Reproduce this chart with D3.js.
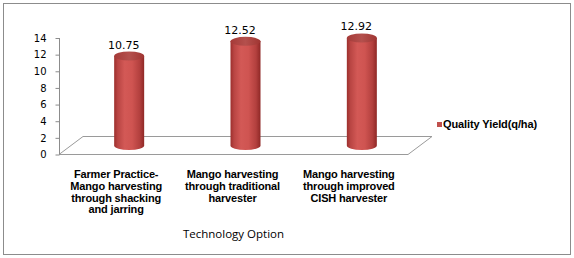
<!DOCTYPE html>
<html>
<head>
<meta charset="utf-8">
<script src="https://cdn.jsdelivr.net/npm/d3@7"></script>
<style>
  body { margin: 0; background: #fff; }
  svg { display: block; }
</style>
</head>
<body>
<svg id="chart" width="574" height="258"></svg>
<script>
// chart data
var categoryLines = [
    ["Farmer Practice-", "Mango harvesting", "through shacking", "and jarring"],
    ["Mango harvesting", "through traditional", "harvester"],
    ["Mango harvesting", "through improved", "CISH harvester"]
];
var yieldValues = [10.75, 12.52, 12.92];
var yTicks = [0, 2, 4, 6, 8, 10, 12, 14];
var seriesName = "Quality Yield(q/ha)";
var axisTitle = "Technology Option";

var colors = {
    border: "#8c8c8c",
    axis: "#8c8c8c",
    floor: "#9a9a9a",
    bar: "#c0504d",
    text: "#000"
};

// floor depth (3d offset)
var depth = { dx: 24, dy: -18 };

var svg = d3.select("#chart");

svg.append("rect")
    .attr("x", 3.5).attr("y", 3.5)
    .attr("width", 567).attr("height", 251)
    .attr("fill", "#fff")
    .attr("stroke", colors.border);

var x = d3.scaleBand()
    .domain(d3.range(yieldValues.length))
    .range([59, 408]);

var y = d3.scaleLinear()
    .domain([0, 14])
    .range([154.5, 38]);

// gradients for the cylinders
var defs = svg.append("defs");
var bodyGrad = defs.append("linearGradient")
    .attr("id", "bodyGrad")
    .attr("x1", "0%").attr("x2", "100%").attr("y1", "0%").attr("y2", "0%");
bodyGrad.selectAll("stop")
    .data([
        [0, "#9c2f2d"], [0.12, "#b94543"], [0.35, "#d35956"],
        [0.6, "#cf5451"], [0.85, "#b3403e"], [1, "#8f2826"]
    ])
    .enter().append("stop")
    .attr("offset", function (d) { return d[0]; })
    .attr("stop-color", function (d) { return d[1]; });

var topGrad = defs.append("linearGradient")
    .attr("id", "topGrad")
    .attr("x1", "0%").attr("x2", "100%").attr("y1", "0%").attr("y2", "0%");
topGrad.selectAll("stop")
    .data([[0, "#a53a38"], [0.5, "#b4504d"], [1, "#a03532"]])
    .enter().append("stop")
    .attr("offset", function (d) { return d[0]; })
    .attr("stop-color", function (d) { return d[1]; });

// floor
var x0 = x.range()[0], x1 = x.range()[1], yb = y(0);
svg.append("path")
    .attr("d", "M" + x0 + "," + yb + "L" + x1 + "," + yb +
        "L" + (x1 + depth.dx) + "," + (yb + depth.dy) +
        "L" + (x0 + depth.dx) + "," + (yb + depth.dy) + "Z")
    .attr("fill", "none")
    .attr("stroke", colors.floor)
    .attr("stroke-width", 1);

// y axis
var yAxis = svg.append("g")
    .attr("transform", "translate(" + (x0 + 0.5) + ",0)")
    .call(d3.axisLeft(y).tickValues(yTicks).tickSize(4).tickPadding(9));
yAxis.select(".domain").attr("stroke", colors.axis).attr("d", "M0," + y(14) + "V" + yb);
yAxis.selectAll(".tick line").attr("stroke", colors.axis);
yAxis.selectAll(".tick text")
    .attr("fill", colors.text)
    .style("font-family", "DejaVu Sans")
    .style("font-size", "10px");

// cylinders
var barW = 30, ry = 4.5;
var bars = svg.append("g").selectAll("g")
    .data(yieldValues)
    .enter().append("g");

function cx(i) { return x(i) + x.bandwidth() / 2 + depth.dx / 2; }
function cy(v) { return y(v) + depth.dy / 2; }

bars.append("path")
    .attr("fill", "url(#bodyGrad)")
    .attr("d", function (d, i) {
        var l = cx(i) - barW / 2, r = cx(i) + barW / 2;
        var t = cy(d), b = cy(0);
        return "M" + l + "," + t + "L" + l + "," + b +
            "A" + (barW / 2) + "," + ry + " 0 0 0 " + r + "," + b +
            "L" + r + "," + t + "Z";
    });

bars.append("ellipse")
    .attr("fill", "url(#topGrad)")
    .attr("cx", function (d, i) { return cx(i); })
    .attr("cy", function (d) { return cy(d); })
    .attr("rx", barW / 2)
    .attr("ry", ry);

// value labels
bars.append("text")
    .attr("x", function (d, i) { return cx(i) - 5.5; })
    .attr("y", function (d) { return cy(d) - 7.5; })
    .attr("text-anchor", "middle")
    .style("font-family", "DejaVu Sans")
    .style("font-size", "11px")
    .attr("fill", colors.text)
    .text(function (d) { return d.toFixed(2); });

// category labels
var catLabels = svg.append("g").selectAll("text")
    .data(categoryLines)
    .enter().append("text")
    .attr("text-anchor", "middle")
    .style("font-family", "Liberation Sans")
    .style("font-weight", "bold")
    .style("font-size", "11px")
    .style("letter-spacing", "-0.15px")
    .attr("fill", colors.text);

catLabels.selectAll("tspan")
    .data(function (d, i) { return d.map(function (s) { return { s: s, i: i }; }); })
    .enter().append("tspan")
    .attr("x", function (d) { return x(d.i) + x.bandwidth() / 2 - 1; })
    .attr("y", function (d, j) { return 178 + j * 11.8; })
    .text(function (d) { return d.s; });

// x axis title
svg.append("text")
    .attr("x", (x0 + x1) / 2)
    .attr("y", 238)
    .attr("text-anchor", "middle")
    .style("font-family", "Open Sans")
    .style("font-size", "11.5px")
    .attr("fill", colors.text)
    .text(axisTitle);

// legend
var legend = svg.append("g").attr("transform", "translate(437,122)");
legend.append("rect")
    .attr("width", 5).attr("height", 5)
    .attr("fill", colors.bar);
legend.append("text")
    .attr("x", 6)
    .attr("y", 5.5)
    .style("font-family", "Liberation Sans")
    .style("font-weight", "bold")
    .style("font-size", "11px")
    .style("letter-spacing", "-0.1px")
    .attr("fill", colors.text)
    .text(seriesName);
</script>
</body>
</html>
